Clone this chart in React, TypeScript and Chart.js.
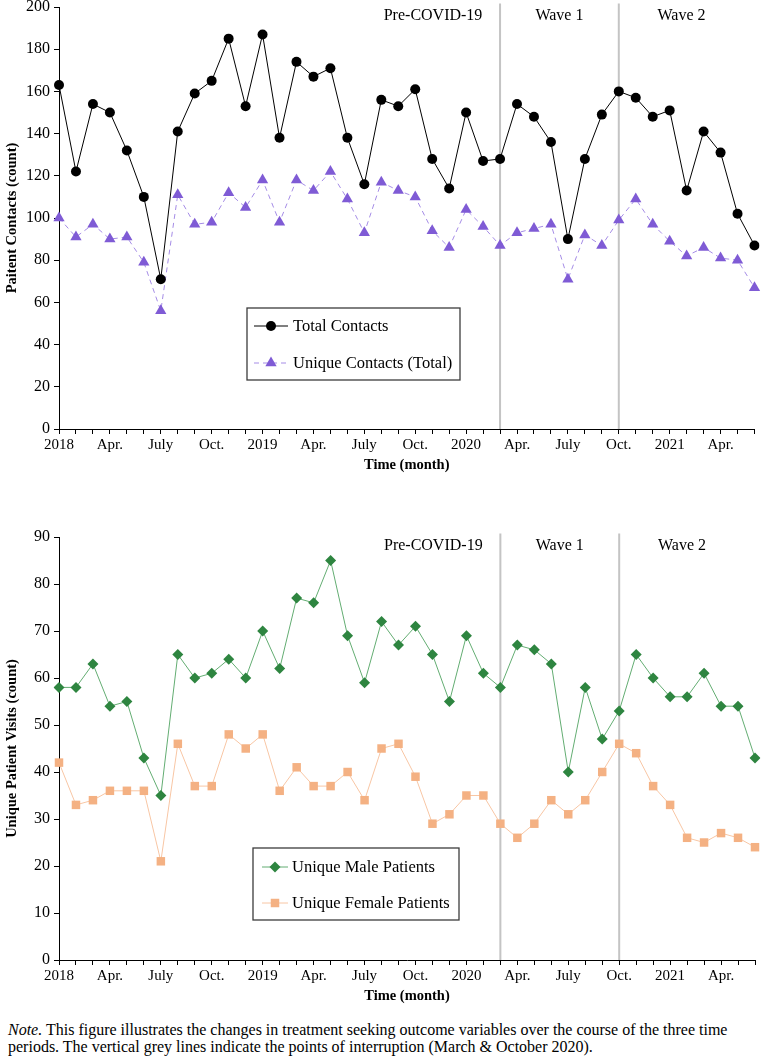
import React, { useEffect, useRef } from 'react';
import { Chart, registerables } from 'chart.js';

Chart.register(...registerables);

const FONT = "'Liberation Serif', 'Times New Roman', serif";

// 42 months: Jan 2018 .. June 2021
const xTickLabels = [
  '2018', '', '', 'Apr.', '', '', 'July', '', '', 'Oct.', '', '',
  '2019', '', '', 'Apr.', '', '', 'July', '', '', 'Oct.', '', '',
  '2020', '', '', 'Apr.', '', '', 'July', '', '', 'Oct.', '', '',
  '2021', '', '', 'Apr.', '', '',
];

const totalContacts = [
  163, 122, 154, 150, 132, 110, 71, 141, 159, 165, 185, 153,
  187, 138, 174, 167, 171, 138, 116, 156, 153, 161, 128, 114,
  150, 127, 128, 154, 148, 136, 90, 128, 149, 160, 157, 148,
  151, 113, 141, 131, 102, 87,
];

const uniqueContacts = [
  100, 91, 97, 90, 91, 79, 56, 111, 97, 98, 112, 105,
  118, 98, 118, 113, 122, 109, 93, 117, 113, 110, 94, 86,
  104, 96, 87, 93, 95, 97, 71, 92, 87, 99, 109, 97,
  89, 82, 86, 81, 80, 67,
];

const maleUnique = [
  58, 58, 63, 54, 55, 43, 35, 65, 60, 61, 64, 60,
  70, 62, 77, 76, 85, 69, 59, 72, 67, 71, 65, 55,
  69, 61, 58, 67, 66, 63, 40, 58, 47, 53, 65, 60,
  56, 56, 61, 54, 54, 43,
];

const femaleUnique = [
  42, 33, 34, 36, 36, 36, 21, 46, 37, 37, 48, 45,
  48, 36, 41, 37, 37, 40, 34, 45, 46, 39, 29, 31,
  35, 35, 29, 26, 29, 34, 31, 34, 40, 46, 44, 37,
  33, 26, 25, 27, 26, 24,
];

// month indices of interruptions (March 2020, October 2020)
const interruptionIdx = [26, 33];
const periodNames = ['Pre-COVID-19', 'Wave 1', 'Wave 2'];
const periodCenters = [22.05, 29.5, 36.7];

function drawMarker(ctx: CanvasRenderingContext2D, style: string, x: number, y: number, r: number, color: string) {
  ctx.save();
  ctx.fillStyle = color;
  ctx.beginPath();
  if (style === 'circle') {
    ctx.arc(x, y, r, 0, Math.PI * 2);
  } else if (style === 'triangle') {
    let rad = 0;
    ctx.moveTo(x + Math.sin(rad) * r, y - Math.cos(rad) * r);
    rad += (2 * Math.PI) / 3;
    ctx.lineTo(x + Math.sin(rad) * r, y - Math.cos(rad) * r);
    rad += (2 * Math.PI) / 3;
    ctx.lineTo(x + Math.sin(rad) * r, y - Math.cos(rad) * r);
    ctx.closePath();
  } else if (style === 'rectRot') {
    ctx.moveTo(x, y - r);
    ctx.lineTo(x + r, y);
    ctx.lineTo(x, y + r);
    ctx.lineTo(x - r, y);
    ctx.closePath();
  } else {
    const s = Math.SQRT1_2 * r;
    ctx.rect(x - s, y - s, 2 * s, 2 * s);
  }
  ctx.fill();
  ctx.restore();
}

const overlayPlugin = {
  id: 'overlay',
  beforeDatasetsDraw(chart: any) {
    const { ctx, chartArea, scales } = chart;
    ctx.save();
    ctx.strokeStyle = '#c4c4c4';
    ctx.lineWidth = 2;
    for (const i of interruptionIdx) {
      const px = scales.x.getPixelForValue(i);
      ctx.beginPath();
      ctx.moveTo(px, chartArea.top - 3.5);
      ctx.lineTo(px, chartArea.bottom);
      ctx.stroke();
    }
    ctx.restore();
  },
  afterDraw(chart: any, _args: any, opts: any) {
    const { ctx, chartArea, scales } = chart;
    ctx.save();
    ctx.fillStyle = '#000';
    ctx.font = `16px ${FONT}`;
    ctx.textAlign = 'center';
    ctx.textBaseline = 'middle';
    periodNames.forEach((name, k) => {
      const px = scales.x.getPixelForValue(periodCenters[k]);
      ctx.fillText(name, px, chartArea.top + 8.5);
    });
    // legend box
    const lg = opts.legend;
    if (lg) {
      ctx.fillStyle = '#fff';
      ctx.fillRect(lg.x, lg.y, lg.w, lg.h);
      ctx.strokeStyle = '#3c3c3c';
      ctx.lineWidth = 1.3;
      ctx.strokeRect(lg.x, lg.y, lg.w, lg.h);
      chart.data.datasets.forEach((ds: any, k: number) => {
        const ey = lg.rows[k];
        ctx.save();
        ctx.strokeStyle = ds.borderColor;
        ctx.lineWidth = 1;
        ctx.setLineDash(ds.borderDash || []);
        ctx.beginPath();
        ctx.moveTo(lg.lineX0, ey);
        ctx.lineTo(lg.lineX1, ey);
        ctx.stroke();
        ctx.restore();
        drawMarker(ctx, ds.pointStyle, (lg.lineX0 + lg.lineX1) / 2, ey, ds.pointRadius, ds.pointBackgroundColor);
        ctx.fillStyle = '#000';
        ctx.font = `16.5px ${FONT}`;
        ctx.textAlign = 'left';
        ctx.textBaseline = 'middle';
        ctx.fillText(ds.label, lg.textX, ey + 1);
      });
    }
    ctx.restore();
  },
};

function makeConfig(datasets: any[], yMax: number, yStep: number, yTitle: string, padTop: number, legend: any) {
  return {
    type: 'line',
    data: { labels: xTickLabels, datasets },
    plugins: [overlayPlugin],
    options: {
      animation: false,
      responsive: false,
      maintainAspectRatio: false,
      layout: { padding: { left: 0, right: 6, top: padTop, bottom: 0 } },
      plugins: {
        legend: { display: false },
        tooltip: { enabled: false },
        overlay: { legend },
      },
      scales: {
        x: {
          type: 'category',
          offset: false,
          grid: { display: true, drawOnChartArea: false, drawTicks: true, tickLength: 5, color: '#000', lineWidth: 1 },
          border: { display: true, color: '#000', width: 1 },
          ticks: {
            autoSkip: false,
            maxRotation: 0,
            minRotation: 0,
            padding: 2,
            color: '#000',
            font: { family: FONT, size: 15 },
          },
          title: {
            display: true,
            text: 'Time (month)',
            color: '#000',
            font: { family: FONT, size: 14.5, weight: 'bold' },
            padding: { top: 0, bottom: 6 },
          },
          afterFit: (s: any) => {
            s.height = 51;
            s.paddingLeft = 0;
            s.paddingRight = 0;
          },
        },
        y: {
          min: 0,
          max: yMax,
          ticks: {
            stepSize: yStep,
            padding: 4,
            color: '#000',
            font: { family: FONT, size: 16 },
          },
          grid: { display: true, drawOnChartArea: false, drawTicks: true, tickLength: 5, color: '#000', lineWidth: 1 },
          border: { display: true, color: '#000', width: 1 },
          title: {
            display: true,
            text: yTitle,
            color: '#000',
            font: { family: FONT, size: 14.5, weight: 'bold' },
            padding: { top: 4, bottom: 0 },
          },
          afterFit: (s: any) => {
            s.width = 59;
            s.paddingTop = 0;
            s.paddingBottom = 0;
          },
        },
      },
    },
  };
}

function ChartCanvas({ config, width, height, top }: any) {
  const ref = useRef<HTMLCanvasElement | null>(null);
  useEffect(() => {
    if (!ref.current) return;
    const chart = new Chart(ref.current, config);
    return () => chart.destroy();
  }, []);
  return (
    <canvas
      ref={ref}
      width={width}
      height={height}
      style={{ position: 'absolute', left: 0, top, width, height }}
    />
  );
}

export default function App() {
  const topDatasets = [
    {
      label: 'Total Contacts',
      data: totalContacts,
      borderColor: '#000000',
      borderWidth: 1,
      pointStyle: 'circle',
      pointRadius: 5,
      pointBorderWidth: 0,
      pointBackgroundColor: '#000000',
      pointBorderColor: '#000000',
      tension: 0,
    },
    {
      label: 'Unique Contacts (Total)',
      data: uniqueContacts,
      borderColor: '#a58ce6',
      borderWidth: 1,
      borderDash: [5, 4],
      pointStyle: 'triangle',
      pointRadius: 6.5,
      pointBorderWidth: 0,
      pointBackgroundColor: '#7f5bd5',
      pointBorderColor: '#7f5bd5',
      tension: 0,
    },
  ];
  const bottomDatasets = [
    {
      label: 'Unique Male Patients',
      data: maleUnique,
      borderColor: '#63ad72',
      borderWidth: 1,
      pointStyle: 'rectRot',
      pointRadius: 5.5,
      pointBorderWidth: 0,
      pointBackgroundColor: '#2e8540',
      pointBorderColor: '#2e8540',
      tension: 0,
    },
    {
      label: 'Unique Female Patients',
      data: femaleUnique,
      borderColor: '#f8c6a4',
      borderWidth: 1,
      pointStyle: 'rect',
      pointRadius: 6,
      pointBorderWidth: 0,
      pointBackgroundColor: '#f4b183',
      pointBorderColor: '#f4b183',
      tension: 0,
    },
  ];
  const topLegend = { x: 247, y: 308, w: 213, h: 72, rows: [326, 363], lineX0: 254, lineX1: 288, textX: 293 };
  const bottomLegend = { x: 253, y: 348, w: 206, h: 72, rows: [367, 403], lineX0: 262, lineX1: 288, textX: 292 };
  const topConfig = makeConfig(topDatasets, 200, 20, 'Paitent Contacts (count)', 7, topLegend);
  const bottomConfig = makeConfig(bottomDatasets, 90, 10, 'Unique Patient Visits (count)', 37, bottomLegend);
  return (
    <div style={{ position: 'absolute', left: 0, top: 0, width: 761, height: 1061, background: '#fff' }}>
      <ChartCanvas config={topConfig} width={761} height={480} top={0} />
      <ChartCanvas config={bottomConfig} width={761} height={511} top={500} />
      <div
        style={{
          position: 'absolute',
          left: 8,
          top: 1021,
          width: 752,
          fontFamily: FONT,
          fontSize: 16,
          lineHeight: '17px',
          color: '#000',
          whiteSpace: 'nowrap',
        }}
      >
        <i>Note.</i> This figure illustrates the changes in treatment seeking outcome variables over the course of the three time
        <br />
        periods. The vertical grey lines indicate the points of interruption (March &amp; October 2020).
      </div>
    </div>
  );
}
